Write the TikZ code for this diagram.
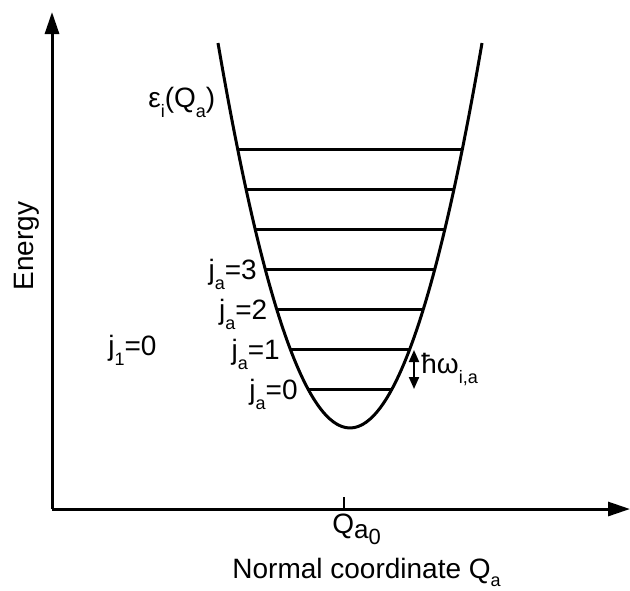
\documentclass[tikz,border=0pt]{standalone}
\usepackage{fontspec}
\setmainfont{Liberation Sans}
\usetikzlibrary{arrows.meta,positioning,calc}
\newcommand{\lo}[1]{\raisebox{-5pt}{\fontsize{9}{9}\selectfont #1}}

\begin{document}
\begin{tikzpicture}[x=0.5pt, y=-0.5pt, >={Triangle[length=11pt,width=7pt]},
  txt/.style={font=\fontsize{14}{16}\selectfont, inner sep=0pt},
  curve/.style={line width=1.5pt}]
\useasboundingbox (0,0) rectangle (630,590);
\coordinate (origin) at (52,509);
\coordinate (ytop) at (52,12);
\coordinate (xend) at (630,509);
\coordinate (Q0) at (344,509);
\draw[curve, ->] (origin) -- (ytop);
\draw[curve, ->] (origin) -- (xend);
\draw[line width=0.75pt] (Q0) -- ++(0,-12);
\draw[curve] (218,43) .. controls (306,556.3) and (394,556.3) .. (482,43);
\foreach \n in {0,...,6}{
  \pgfmathsetmacro\yy{389-40*\n}
  \pgfmathsetmacro\hw{sqrt((428-\yy)/0.0221)}
  \coordinate (Lw\n) at (350-\hw,\yy);
  \coordinate (Le\n) at (350+\hw,\yy);
  \draw[curve] (Lw\n) -- (Le\n);
}
\node[txt, anchor=base west] (eps) at (148,107) {ε\lo{i}(Q\lo{a})};
\node[txt, anchor=base east] (ja3) at ($(Lw3)+(-8,10)$) {j\lo{a}=3};
\node[txt, anchor=base east] (ja2) at ($(Lw2)+(-9,10)$) {j\lo{a}=2};
\node[txt, anchor=base east] (ja1) at ($(Lw1)+(-10,10)$) {j\lo{a}=1};
\node[txt, anchor=base east] (ja0) at ($(Lw0)+(-10,10)$) {j\lo{a}=0};
\node[txt, anchor=base west] (j1) at (108,355) {j\lo{1}=0};
\coordinate (hwtop) at (414,350);
\coordinate (hwbot) at (414,389);
\draw[line width=1pt, <->, >={Triangle[length=6pt,width=5pt]}] (hwtop) -- (hwbot);
\node[txt, anchor=base west] (hbar) at (421,373) {ħω\lo{i,a}};
\node[txt, anchor=base west] (qa0) at (332,533) {Q\raisebox{-2.5pt}{\fontsize{13}{13}\selectfont a\raisebox{-3pt}{\fontsize{11}{11}\selectfont 0}}};
\node[txt, anchor=base west] (xlabel) at (232,578) {Normal coordinate Q\raisebox{-4pt}{\fontsize{9}{9}\selectfont a}};
\node[txt, rotate=90, anchor=base] (ylabel) at (33,246) {Energy};
\end{tikzpicture}
\end{document}
